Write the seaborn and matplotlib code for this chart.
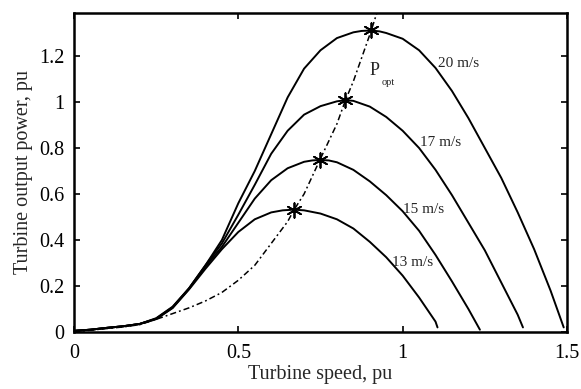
import matplotlib
matplotlib.use("Agg")
import matplotlib.pyplot as plt
import seaborn as sns
import pandas as pd

# ---- data ----
speed_20 = [0.0, 0.05, 0.1, 0.15, 0.2, 0.25, 0.3, 0.35, 0.4, 0.45, 0.5, 0.55, 0.6, 0.65, 0.7,
            0.75, 0.8, 0.85, 0.875, 0.904, 0.93, 0.95, 1.0, 1.05, 1.1, 1.15, 1.2, 1.25, 1.3, 1.35,
            1.4, 1.45, 1.49]
power_20 = [0.005, 0.01, 0.018, 0.025, 0.035, 0.06, 0.11, 0.19, 0.29, 0.40, 0.56, 0.70, 0.86, 1.02, 1.145,
            1.225, 1.278, 1.303, 1.309, 1.311, 1.307, 1.30, 1.275, 1.225, 1.148, 1.048, 0.93, 0.80, 0.67, 0.52,
            0.36, 0.18, 0.02]

speed_17 = [0.0, 0.05, 0.1, 0.15, 0.2, 0.25, 0.3, 0.35, 0.4, 0.45, 0.5, 0.55, 0.6, 0.65, 0.7,
            0.75, 0.8, 0.826, 0.85, 0.9, 0.95, 1.0, 1.05, 1.1, 1.15, 1.2, 1.25, 1.3, 1.35, 1.366]
power_17 = [0.005, 0.01, 0.018, 0.025, 0.035, 0.058, 0.108, 0.19, 0.29, 0.385, 0.51, 0.64, 0.775, 0.875, 0.945,
            0.982, 1.003, 1.008, 1.005, 0.98, 0.935, 0.875, 0.80, 0.705, 0.595, 0.475, 0.355, 0.215, 0.075, 0.02]

speed_15 = [0.0, 0.05, 0.1, 0.15, 0.2, 0.25, 0.3, 0.35, 0.4, 0.45, 0.5, 0.55, 0.6, 0.65, 0.7, 0.725,
            0.748, 0.775, 0.8, 0.85, 0.9, 0.95, 1.0, 1.05, 1.1, 1.15, 1.2, 1.235]
power_15 = [0.005, 0.01, 0.018, 0.025, 0.035, 0.057, 0.106, 0.188, 0.285, 0.37, 0.475, 0.58, 0.66, 0.712, 0.74, 0.746,
            0.748, 0.746, 0.738, 0.705, 0.655, 0.595, 0.525, 0.44, 0.335, 0.22, 0.10, 0.01]

speed_13 = [0.0, 0.05, 0.1, 0.15, 0.2, 0.25, 0.3, 0.35, 0.4, 0.45, 0.5, 0.55, 0.6, 0.635, 0.669, 0.7,
            0.75, 0.8, 0.85, 0.9, 0.95, 1.0, 1.05, 1.1, 1.106]
power_13 = [0.005, 0.01, 0.018, 0.025, 0.035, 0.056, 0.104, 0.185, 0.275, 0.36, 0.435, 0.49, 0.52, 0.529, 0.532, 0.529,
            0.515, 0.49, 0.45, 0.392, 0.325, 0.245, 0.15, 0.045, 0.02]

speed_opt = [0.0, 0.05, 0.1, 0.15, 0.2, 0.25, 0.3, 0.35, 0.4, 0.45, 0.5, 0.55, 0.6, 0.65, 0.669,
             0.7, 0.748, 0.8, 0.826, 0.85, 0.904, 0.922]
power_opt = [0.0, 0.008, 0.015, 0.022, 0.032, 0.055, 0.08, 0.105, 0.135, 0.172, 0.225, 0.29, 0.385, 0.48, 0.53,
             0.60, 0.748, 0.905, 1.008, 1.09, 1.309, 1.39]

peak_speed = [0.669, 0.748, 0.826, 0.904]
peak_power = [0.532, 0.748, 1.008, 1.311]

curve_labels = ["13 m/s", "15 m/s", "17 m/s", "20 m/s"]
label_pos_x = [0.969, 1.002, 1.053, 1.107]
label_pos_y = [0.301, 0.533, 0.822, 1.167]

x_ticks = [0, 0.5, 1, 1.5]
x_tick_labels = ["0", "0.5", "1", "1.5"]
y_ticks = [0, 0.2, 0.4, 0.6, 0.8, 1.0, 1.2]
y_tick_labels = ["0", "0.2", "0.4", "0.6", "0.8", "1", "1.2"]

# ---- plotting ----
sns.set_style("ticks")
plt.rcParams['font.family'] = ['Liberation Serif', 'DejaVu Serif']

fig = plt.figure(figsize=(5.81, 3.89), dpi=100)
ax = fig.add_axes([74 / 581, 1 - 332 / 389, (567 - 74) / 581, (332 - 13) / 389])

curves = [(speed_13, power_13), (speed_15, power_15), (speed_17, power_17), (speed_20, power_20)]
for sx, sy in curves:
    df = pd.DataFrame({"speed": sx, "power": sy})
    sns.lineplot(data=df, x="speed", y="power", ax=ax, color="black", linewidth=1.4,
                 sort=False, estimator=None)

df_opt = pd.DataFrame({"speed": speed_opt, "power": power_opt})
sns.lineplot(data=df_opt, x="speed", y="power", ax=ax, color="black", linewidth=1.1,
             sort=False, estimator=None)
ax.lines[-1].set_linestyle((0, (4, 2, 1.2, 2)))

df_pk = pd.DataFrame({"speed": peak_speed, "power": peak_power})
sns.scatterplot(data=df_pk, x="speed", y="power", ax=ax, marker=(6, 2, 0), s=110,
                color="black", linewidth=1.3, edgecolor="black", zorder=5)

for lab, lx, ly in zip(curve_labels, label_pos_x, label_pos_y):
    ax.text(lx, ly, lab, fontsize=11, ha="left", va="center")

ax.text(0.900, 1.135, "P", fontsize=13, ha="left", va="center")
ax.text(0.935, 1.085, "opt", fontsize=7.5, ha="left", va="center")

ax.set_xlim(0, 1.5)
ax.set_ylim(0, 1.387)
ax.set_xticks(x_ticks)
ax.set_xticklabels(x_tick_labels)
ax.set_yticks(y_ticks)
ax.set_yticklabels(y_tick_labels)
ax.tick_params(axis="x", pad=9)
ax.tick_params(axis="y", pad=7)
ax.tick_params(direction="in", length=4, width=1.2, labelsize=14.5, top=True, right=True,
               colors="black")
for sp in ax.spines.values():
    sp.set_visible(True)
    sp.set_linewidth(1.8)
    sp.set_color("black")

ax.set_xlabel("Turbine speed, pu", fontsize=14.5, labelpad=1)
ax.set_ylabel("Turbine output power, pu", fontsize=14.5, labelpad=4)

fig.savefig("out.png", dpi=100)
